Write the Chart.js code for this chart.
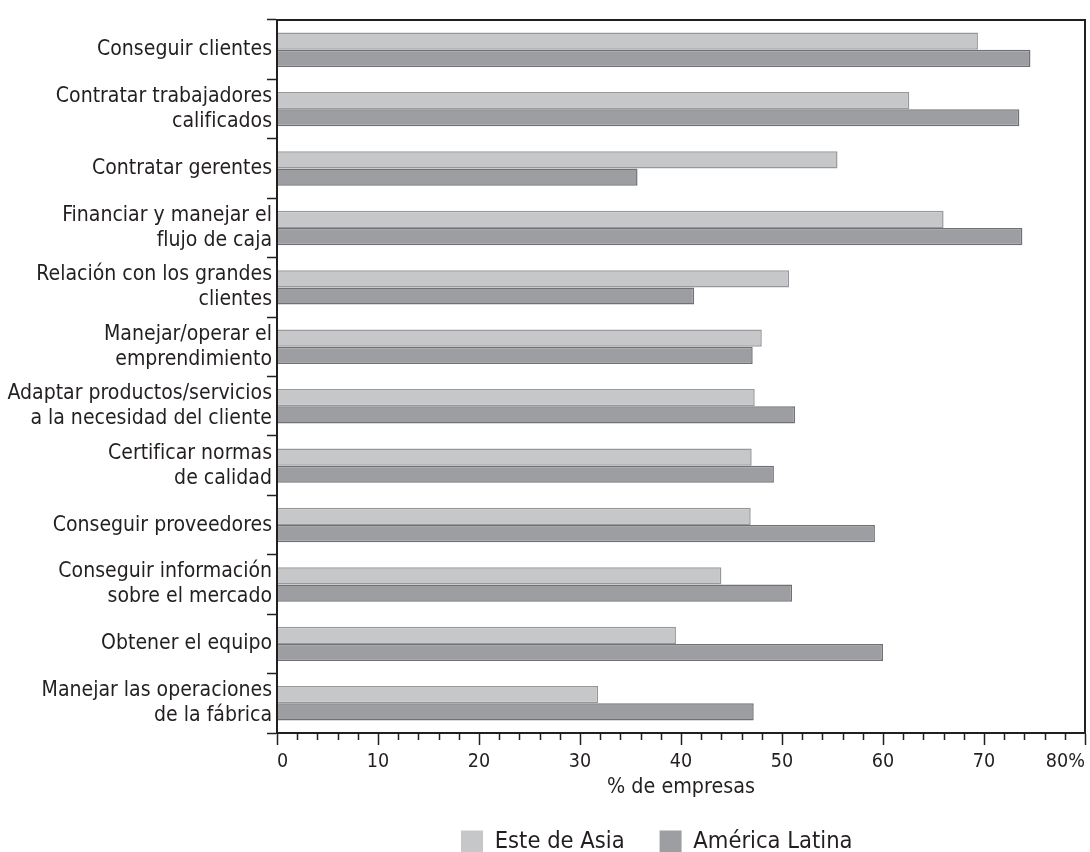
<!DOCTYPE html>
<html lang="es">
<head>
<meta charset="utf-8">
<title>Obstáculos de las empresas</title>
<script src="https://cdn.jsdelivr.net/npm/chart.js@4.4.1/dist/chart.umd.min.js"></script>
<style>
  html, body { margin: 0; padding: 0; background: #fff; }
  #wrap { position: relative; width: 1090px; height: 852px; }
</style>
</head>
<body>
<div id="wrap"><canvas id="chart"></canvas></div>
<script>
// categorías (de arriba hacia abajo)
const categories = [
    'Conseguir clientes',
    ['Contratar trabajadores', 'calificados'],
    'Contratar gerentes',
    ['Financiar y manejar el', 'flujo de caja'],
    ['Relación con los grandes', 'clientes'],
    ['Manejar/operar el', 'emprendimiento'],
    ['Adaptar productos/servicios', 'a la necesidad del cliente'],
    ['Certificar normas', 'de calidad'],
    'Conseguir proveedores',
    ['Conseguir información', 'sobre el mercado'],
    'Obtener el equipo',
    ['Manejar las operaciones', 'de la fábrica']
];

const esteAsia = [69.4, 62.6, 55.5, 66.0, 50.7, 48.0, 47.3, 47.0, 46.9, 44.0, 39.5, 31.8];
const americaLatina = [74.6, 73.5, 35.7, 73.8, 41.3, 47.1, 51.3, 49.2, 59.2, 51.0, 60.0, 47.2];

const seriesNames = ['Este de Asia', 'América Latina'];
const xMin = 0;
const xMax = 80;
const xMajorStep = 10;
const xMinorStep = 2;
const xTitle = '% de empresas';

const INK = '#231f20';

// --- fuente: se prefiere una sans condensada, tamaño ajustado al ancho del original
const probe = document.createElement('canvas').getContext('2d');
function textWidth(font, text) {
    probe.font = font;
    return probe.measureText(text).width;
}
function hasFamily(name) {
    const s = 'abcdefXYZ 0123456789';
    return ['monospace', 'serif'].some(fb =>
        textWidth(`100px ${name}, ${fb}`, s) !== textWidth(`100px ${fb}`, s));
}
function pickFont() {
    if (hasFamily("'Liberation Sans Narrow'")) return { family: "'Liberation Sans Narrow'", weight: undefined };
    const s = 'Conseguir clientes';
    if (textWidth("condensed 100px 'Noto Sans'", s) < 0.92 * textWidth("100px 'Noto Sans'", s)) {
        return { family: "'Noto Sans'", weight: 'condensed' };
    }
    if (hasFamily("'Noto Sans Condensed'")) return { family: "'Noto Sans Condensed'", weight: undefined };
    return { family: "'DejaVu Sans Condensed', 'DejaVu Sans'", weight: undefined };
}
const baseFont = pickFont();
function fitSize(text, target) {
    const pre = baseFont.weight ? baseFont.weight + ' ' : '';
    return Math.round(target / textWidth(`${pre}100px ${baseFont.family}`, text) * 1000) / 10;
}
const labelSize = (fitSize('Conseguir clientes', 177) + fitSize('Adaptar productos/servicios', 261)) / 2;
const titleSize = fitSize(xTitle, 148);
const tickSize = titleSize * 0.92;
const legendSize = fitSize(seriesNames[0], 130);
const font = (size, extra) => Object.assign({ family: baseFont.family, weight: baseFont.weight, size }, extra);

// marco del área de datos
const framePlugin = {
    id: 'frame',
    afterDraw(chart) {
        const { ctx, chartArea: a } = chart;
        ctx.save();
        ctx.strokeStyle = INK;
        ctx.lineWidth = 2;
        ctx.strokeRect(a.left, a.top, a.right - a.left, a.bottom - a.top);
        ctx.restore();
    }
};

// marcas menores del eje x
const minorTicksPlugin = {
    id: 'minorTicks',
    afterDraw(chart) {
        const scale = chart.scales.x;
        const ctx = chart.ctx;
        ctx.save();
        ctx.strokeStyle = INK;
        ctx.lineWidth = 1.5;
        for (let v = xMin; v <= xMax; v += xMinorStep) {
            if (v % xMajorStep === 0) continue;
            const x = Math.round(scale.getPixelForValue(v)) + 0.5;
            ctx.beginPath();
            ctx.moveTo(x, scale.top);
            ctx.lineTo(x, scale.top + 7);
            ctx.stroke();
        }
        ctx.restore();
    }
};

// la leyenda del original está corrida a la derecha, bajo el gráfico
const legendPlace = {
    id: 'legendPlace',
    afterLayout(chart) {
        const l = chart.legend;
        const dx = 461 - (l.left + 35);
        const itemH = Math.max(legendSize, 22);
        const dy = (841.5 - itemH / 2 - 35) - l.top;
        l.left += dx; l.right += dx;
        l.top += dy; l.bottom += dy;
    }
};

new Chart(document.getElementById('chart'), {
    type: 'bar',
    data: {
        labels: categories,
        datasets: [
            {
                label: seriesNames[0],
                data: esteAsia,
                backgroundColor: '#c6c7c9',
                borderColor: '#97989b',
                borderWidth: 1.5,
                categoryPercentage: 0.58,
                barPercentage: 1.0
            },
            {
                label: seriesNames[1],
                data: americaLatina,
                backgroundColor: '#9d9ea2',
                borderColor: '#707175',
                borderWidth: 1.5,
                categoryPercentage: 0.58,
                barPercentage: 1.0
            }
        ]
    },
    options: {
        indexAxis: 'y',
        responsive: true,
        maintainAspectRatio: false,
        animation: false,
        layout: { padding: { left: 0, right: 5, top: 14, bottom: 0 } },
        scales: {
            x: {
                min: xMin,
                max: xMax,
                afterFit: (s) => { s.height = 59; s.paddingLeft = 0; s.paddingRight = 0; },
                ticks: {
                    stepSize: xMajorStep,
                    align: 'inner',
                    autoSkip: false,
                    maxRotation: 0,
                    padding: 5,
                    color: INK,
                    font: font(tickSize),
                    callback: (v) => (v === xMax ? v + '%' : v)
                },
                grid: {
                    drawOnChartArea: false,
                    tickLength: 12,
                    tickColor: INK,
                    tickWidth: 1.5
                },
                border: { color: INK, width: 2 },
                title: {
                    display: true,
                    text: xTitle,
                    color: INK,
                    font: font(titleSize, { lineHeight: 1 }),
                    padding: { top: 0, bottom: 5 - titleSize / 2 }
                }
            },
            y: {
                afterFit: (s) => { s.width = 277; },
                ticks: {
                    padding: -5,
                    color: INK,
                    autoSkip: false,
                    font: font(labelSize, { lineHeight: '25px' })
                },
                grid: {
                    drawOnChartArea: false,
                    offset: true,
                    tickLength: 10,
                    tickColor: INK,
                    tickWidth: 1.5
                },
                border: { color: INK, width: 2 }
            }
        },
        plugins: {
            legend: {
                position: 'bottom',
                align: 'start',
                maxHeight: 60,
                labels: {
                    boxWidth: 22,
                    boxHeight: 22,
                    padding: 35,
                    color: INK,
                    font: font(legendSize),
                    generateLabels: (chart) =>
                        Chart.defaults.plugins.legend.labels.generateLabels(chart)
                            .map((item) => Object.assign(item, { lineWidth: 0 }))
                }
            },
            tooltip: { enabled: false }
        }
    },
    plugins: [framePlugin, minorTicksPlugin, legendPlace]
});
</script>
</body>
</html>
